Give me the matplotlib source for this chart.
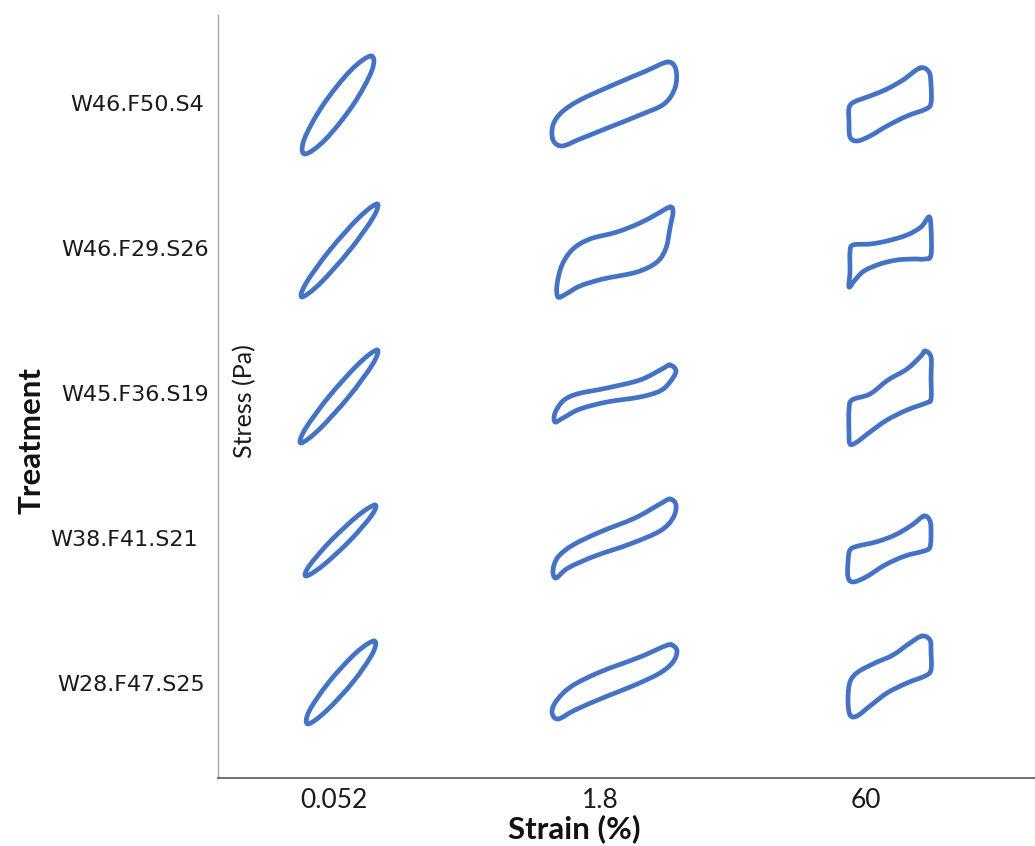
import numpy as np
import matplotlib
matplotlib.use("Agg")
import matplotlib.pyplot as plt
from matplotlib.path import Path
from matplotlib.patches import PathPatch

# ---------------- data ----------------
treatments = ["W46.F50.S4", "W46.F29.S26", "W45.F36.S19", "W38.F41.S21", "W28.F47.S25"]
strain_labels = ["0.052", "1.8", "60"]

# Lissajous loop outlines: (strain, stress) pairs,
# relative to each cell centre (arbitrary normalised units), one loop per strain
W46_F50_S4 = [
    [(37, 49), (37.9, 34.6), (19, 0), (-8.7, -34.6), (-29, -49), (-29.9, -34.6), (-11, 0), (16.7, 34.6)],
    [(68, 43), (76, 35), (75, 17), (64, 1), (40, -10), (10, -22), (-20, -34), (-38, -41), (-47, -35),
     (-47, -20), (-38, -7), (-20, 5), (13, 20), (46, 34)],
    [(54, 37), (63, 33), (65, 20), (65, 2), (60, -4), (41, -11), (21, -21), (4, -31), (-9, -36), (-16, -32),
     (-17, -17), (-17, -3), (-12, 3), (4, 9), (21, 16), (37, 25)],
]
W46_F29_S26 = [
    [(43, 46), (39.1, 32.4), (15.5, -0.5), (-13.9, -33.4), (-32, -47), (-28.1, -33.4), (-4.5, -0.5), (24.9, 32.4)],
    [(70, 43), (73, 38), (70, 22), (66, 2), (57, -12), (37, -22), (3, -29), (-20, -36), (-34, -44), (-42, -47),
     (-43, -35), (-38, -15), (-27, 1), (-10, 11), (17, 18), (40, 27), (57, 36)],
    [(63, 33), (65, 22), (65, -5), (59, -9), (47, -9), (31, -10), (14, -14), (-2, -21), (-11, -30), (-17, -37),
     (-16, -22), (-16, -2), (-13, 5), (4, 6), (21, 9), (41, 15), (55, 23)],
]
W45_F36_S19 = [
    [(43, 45), (39, 31.4), (15, -1.5), (-14.8, -34.4), (-33, -48), (-29, -34.4), (-5, -1.5), (24.8, 31.4)],
    [(70, 30), (76, 24), (70, 13), (60, 4), (40, -2), (7, -7), (-20, -14), (-37, -23), (-45, -27), (-45, -18),
     (-37, -6), (-23, 1), (7, 7), (40, 15), (62, 26)],
    [(59, 44), (65, 38), (65, 17), (65, -4), (60, -8), (41, -15), (21, -25), (4, -37), (-9, -47), (-16, -49),
     (-17, -37), (-17, -15), (-14, -5), (4, 1), (22, 15), (41, 26), (55, 39)],
]
W38_F41_S21 = [
    [(41, 35), (37.6, 24.6), (16, -0.5), (-11.2, -25.6), (-28, -36), (-24.6, -25.6), (-3, -0.5), (24.2, 24.6)],
    [(70, 41), (76, 35), (73, 22), (60, 9), (30, -4), (-5, -16), (-32, -28), (-44, -38), (-47, -30), (-42, -17),
     (-27, -5), (0, 8), (35, 22), (60, 36)],
    [(58, 24), (64, 19), (65, 7), (64, -7), (58, -11), (39, -16), (19, -25), (0, -37), (-13, -42), (-18, -37),
     (-18, -22), (-16, -10), (-8, -6), (10, -2), (29, 5), (46, 15)],
]
W28_F47_S25 = [
    [(40, 44), (38.8, 32), (19, 3), (-7.8, -26), (-26, -39), (-24.8, -26), (-5, 3), (21.8, 32)],
    [(72, 40), (77, 34), (73, 23), (60, 12), (35, 0), (5, -12), (-25, -25), (-42, -34), (-48, -27), (-43, -15),
     (-28, -1), (0, 13), (40, 28), (65, 39)],
    [(56, 49), (64, 45), (65, 33), (65, 15), (59, 9), (41, 2), (21, -8), (4, -21), (-9, -31), (-16, -30),
     (-18, -15), (-16, 3), (-8, 13), (9, 22), (27, 30), (44, 42)],
]
loops = [W46_F50_S4, W46_F29_S26, W45_F36_S19, W38_F41_S21, W28_F47_S25]

# ---------------- figure ----------------
W, H = 1035, 846
fig = plt.figure(figsize=(W / 100, H / 100), dpi=100)
ax_l, ax_b, ax_r, ax_t = 218, 778, 1035, 15
ax = fig.add_axes([ax_l / W, 1 - ax_b / H, (ax_r - ax_l) / W, (ax_b - ax_t) / H])

unit_x, unit_y = 266.0, 145.0   # cell size (display px) used to scale normalised loop units
x0 = -(334 - ax_l) / unit_x
y_top_row = 105
n = len(treatments)
ax.set_xlim(x0, x0 + (ax_r - ax_l) / unit_x)
ax.set_ylim((n - 1) - (ax_b - y_top_row) / unit_y, (n - 1) + (y_top_row - ax_t) / unit_y)

color = "#4472C4"


def closed_smooth_path(pts):
    p = np.asarray(pts, float)
    m = len(p)
    verts = [p[0]]
    codes = [Path.MOVETO]
    for i in range(m):
        P0, P1, P2, P3 = p[(i - 1) % m], p[i], p[(i + 1) % m], p[(i + 2) % m]
        c1 = P1 + (P2 - P0) / 6.0
        c2 = P2 - (P3 - P1) / 6.0
        verts += [c1, c2, P2]
        codes += [Path.CURVE4] * 3
    return Path(verts, codes)


for i, row_loops in enumerate(loops):
    yc = (n - 1) - i
    for j, pts in enumerate(row_loops):
        pts_data = [(j + dx / unit_x, yc + dy / unit_y) for dx, dy in pts]
        ax.add_patch(PathPatch(closed_smooth_path(pts_data), facecolor="none",
                               edgecolor=color, lw=3.4, joinstyle="round", capstyle="round"))

for s in ("top", "right"):
    ax.spines[s].set_visible(False)
ax.spines["left"].set_color("#a6a6a6")
ax.spines["left"].set_linewidth(1.0)
ax.spines["bottom"].set_color("#595959")
ax.spines["bottom"].set_linewidth(1.2)
ax.tick_params(length=0)
ax.set_yticks([])
ax.set_xticks(range(len(strain_labels)))
ax.set_xticklabels(strain_labels, fontsize=19, family="Lato", color="#1a1a1a")
ax.tick_params(axis="x", pad=7)

label_cx = [137, 135, 135, 124, 131]
for i, (t, cx) in enumerate(zip(treatments, label_cx)):
    ax.text((cx - ax_l) / (ax_r - ax_l), (n - 1) - i, t, transform=ax.get_yaxis_transform(),
            ha="center", va="center", fontsize=16, family="DejaVu Sans", color="#1a1a1a")

fig.text(574 / W, 1 - 829 / H, "Strain (%)", ha="center", va="center", fontsize=22.5,
         fontweight="bold", family="Lato", color="#111111")
fig.text(32 / W, 1 - 441 / H, "Treatment", ha="center", va="center", rotation=90, fontsize=22.5,
         fontweight="bold", family="Lato", color="#111111")
fig.text(245 / W, 1 - 401 / H, "Stress (Pa)", ha="center", va="center", rotation=90, fontsize=18,
         family="Lato", color="#1a1a1a")

fig.savefig("out.png", dpi=100)
